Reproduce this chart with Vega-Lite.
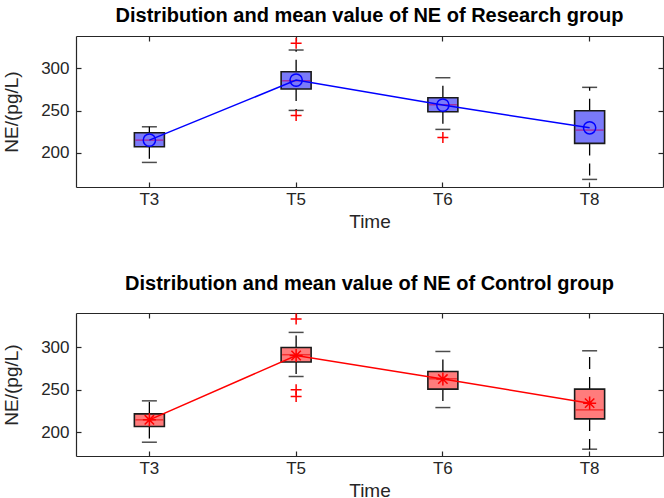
{
  "$schema": "https://vega.github.io/schema/vega-lite/v6.json",
  "background": "white",
  "padding": {"left": 2, "top": 5, "right": 0, "bottom": 0},
  "bounds": "flush",
  "spacing": 126,
  "config": {
    "font": "Liberation Sans",
    "view": {"stroke": null},
    "title": {"font": "Liberation Sans", "fontSize": 20, "fontWeight": "bold", "color": "black", "anchor": "middle", "frame": "group", "offset": 9},
    "axis": {
      "labelFont": "Liberation Sans", "titleFont": "Liberation Sans",
      "labelFontSize": 17, "titleFontSize": 19, "titleFontWeight": "normal",
      "labelColor": "#262626", "titleColor": "#262626",
      "domainColor": "#262626", "tickColor": "#262626", "domainWidth": 1.2, "tickWidth": 1.2,
      "tickSize": -5, "grid": false
    }
  },
  "datasets": {
    "research": [
      {"time": "T3", "lo": 188.6, "q1": 207.1, "median": 215.0, "q3": 223.7, "hi": 230.8, "mean": 215.0},
      {"time": "T5", "lo": 250.2, "q1": 275.5, "median": 285.3, "q3": 296.0, "hi": 321.7, "mean": 286.1},
      {"time": "T6", "lo": 227.7, "q1": 248.6, "median": 256.9, "q3": 265.2, "hi": 288.9, "mean": 256.5},
      {"time": "T8", "lo": 168.5, "q1": 211.1, "median": 226.9, "q3": 249.8, "hi": 277.5, "mean": 229.6}
    ],
    "research_outliers": [
      {"time": "T5", "value": 329.6},
      {"time": "T5", "value": 244.1},
      {"time": "T6", "value": 218.2}
    ],
    "control": [
      {"time": "T3", "lo": 188.2, "q1": 206.6, "median": 214.5, "q3": 221.5, "hi": 236.8, "mean": 214.5},
      {"time": "T5", "lo": 265.4, "q1": 282.4, "median": 291.0, "q3": 299.5, "hi": 317.2, "mean": 290.1},
      {"time": "T6", "lo": 228.9, "q1": 250.6, "median": 262.7, "q3": 271.3, "hi": 294.8, "mean": 262.4},
      {"time": "T8", "lo": 180.0, "q1": 215.6, "median": 226.2, "q3": 250.6, "hi": 295.6, "mean": 234.1}
    ],
    "control_outliers": [
      {"time": "T5", "value": 332.9},
      {"time": "T5", "value": 249.8},
      {"time": "T5", "value": 241.9}
    ]
  },
  "vconcat": [
    {
      "width": 587,
      "height": 151,
      "title": "Distribution and mean value of NE of Research group",
      "data": {"name": "research"},
      "layer": [
        {
          "mark": {"type": "rule", "color": "black", "strokeWidth": 1.3, "strokeDash": [12, 8]},
          "encoding": {
            "x": {"field": "time", "type": "nominal", "title": "Time",
                  "scale": {"type": "band", "domain": ["T3", "T5", "T6", "T8"], "paddingInner": 0, "paddingOuter": 0},
                  "axis": {"orient": "bottom", "labelAngle": 0, "labelPadding": 9, "titlePadding": 5}},
            "y": {"field": "q3", "type": "quantitative", "title": "NE/(pg/L)",
                  "scale": {"domain": [159.5, 338.3], "nice": false, "zero": false},
                  "axis": {"orient": "left", "values": [200, 250, 300], "labelPadding": 12, "titlePadding": 19}},
            "y2": {"field": "hi"}
          }
        },
        {
          "mark": {"type": "rule", "color": "black", "strokeWidth": 1.3, "strokeDash": [12, 8]},
          "encoding": {
            "x": {"field": "time", "type": "nominal", "axis": null},
            "y": {"field": "q1", "type": "quantitative", "axis": null},
            "y2": {"field": "lo"}
          }
        },
        {
          "mark": {"type": "tick", "color": "black", "size": 15, "thickness": 1.5},
          "encoding": {
            "x": {"field": "time", "type": "nominal", "axis": null},
            "y": {"field": "hi", "type": "quantitative", "axis": null}
          }
        },
        {
          "mark": {"type": "tick", "color": "black", "size": 15, "thickness": 1.5},
          "encoding": {
            "x": {"field": "time", "type": "nominal", "axis": null},
            "y": {"field": "lo", "type": "quantitative", "axis": null}
          }
        },
        {
          "mark": {"type": "bar", "size": 30, "fill": "#7a7afa", "stroke": "#1a1a1a", "strokeWidth": 1.6},
          "encoding": {
            "x": {"field": "time", "type": "nominal", "axis": null},
            "y": {"field": "q1", "type": "quantitative", "axis": null},
            "y2": {"field": "q3"}
          }
        },
        {
          "mark": {"type": "tick", "color": "#b01080", "size": 28, "thickness": 1.5},
          "encoding": {
            "x": {"field": "time", "type": "nominal", "axis": null},
            "y": {"field": "median", "type": "quantitative", "axis": null}
          }
        },
        {
          "mark": {"type": "line", "color": "#0000ff", "strokeWidth": 1.5},
          "encoding": {
            "x": {"field": "time", "type": "nominal",
                  "axis": {"orient": "top", "labels": false, "title": null}},
            "y": {"field": "mean", "type": "quantitative",
                  "axis": {"orient": "right", "values": [200, 250, 300], "labels": false, "title": null}}
          }
        },
        {
          "mark": {"type": "point", "shape": "circle", "filled": false, "color": "#0000ff", "size": 150, "strokeWidth": 1.5, "opacity": 1},
          "encoding": {
            "x": {"field": "time", "type": "nominal", "axis": null},
            "y": {"field": "mean", "type": "quantitative", "axis": null}
          }
        },
        {
          "data": {"name": "research_outliers"},
          "mark": {"type": "point", "shape": "M-1,0H1M0,-1V1", "filled": false, "color": "#ff0000", "size": 120, "strokeWidth": 1.5, "opacity": 1},
          "encoding": {
            "x": {"field": "time", "type": "nominal", "axis": null},
            "y": {"field": "value", "type": "quantitative", "axis": null}
          }
        }
      ],
      "resolve": {"axis": {"x": "independent", "y": "independent"}}
    },
    {
      "width": 587,
      "height": 143,
      "title": {"text": "Distribution and mean value of NE of Control group", "offset": 17},
      "data": {"name": "control"},
      "layer": [
        {
          "mark": {"type": "rule", "color": "black", "strokeWidth": 1.3, "strokeDash": [12, 8]},
          "encoding": {
            "x": {"field": "time", "type": "nominal", "title": "Time",
                  "scale": {"type": "band", "domain": ["T3", "T5", "T6", "T8"], "paddingInner": 0, "paddingOuter": 0},
                  "axis": {"orient": "bottom", "labelAngle": 0, "labelPadding": 9, "titlePadding": 5}},
            "y": {"field": "q3", "type": "quantitative", "title": "NE/(pg/L)",
                  "scale": {"domain": [172, 340], "nice": false, "zero": false},
                  "axis": {"orient": "left", "values": [200, 250, 300], "labelPadding": 12, "titlePadding": 19}},
            "y2": {"field": "hi"}
          }
        },
        {
          "mark": {"type": "rule", "color": "black", "strokeWidth": 1.3, "strokeDash": [12, 8]},
          "encoding": {
            "x": {"field": "time", "type": "nominal", "axis": null},
            "y": {"field": "q1", "type": "quantitative", "axis": null},
            "y2": {"field": "lo"}
          }
        },
        {
          "mark": {"type": "tick", "color": "black", "size": 15, "thickness": 1.5},
          "encoding": {
            "x": {"field": "time", "type": "nominal", "axis": null},
            "y": {"field": "hi", "type": "quantitative", "axis": null}
          }
        },
        {
          "mark": {"type": "tick", "color": "black", "size": 15, "thickness": 1.5},
          "encoding": {
            "x": {"field": "time", "type": "nominal", "axis": null},
            "y": {"field": "lo", "type": "quantitative", "axis": null}
          }
        },
        {
          "mark": {"type": "bar", "size": 30, "fill": "#ff7c7c", "stroke": "#1a1a1a", "strokeWidth": 1.6},
          "encoding": {
            "x": {"field": "time", "type": "nominal", "axis": null},
            "y": {"field": "q1", "type": "quantitative", "axis": null},
            "y2": {"field": "q3"}
          }
        },
        {
          "mark": {"type": "tick", "color": "#ee1111", "size": 28, "thickness": 1.5},
          "encoding": {
            "x": {"field": "time", "type": "nominal", "axis": null},
            "y": {"field": "median", "type": "quantitative", "axis": null}
          }
        },
        {
          "mark": {"type": "line", "color": "#ff0000", "strokeWidth": 1.5},
          "encoding": {
            "x": {"field": "time", "type": "nominal",
                  "axis": {"orient": "top", "labels": false, "title": null}},
            "y": {"field": "mean", "type": "quantitative",
                  "axis": {"orient": "right", "values": [200, 250, 300], "labels": false, "title": null}}
          }
        },
        {
          "mark": {"type": "point", "shape": "M-1,0H1M0,-1V1M-0.72,-0.72L0.72,0.72M-0.72,0.72L0.72,-0.72", "filled": false, "color": "#ff0000", "size": 170, "strokeWidth": 1.5, "opacity": 1},
          "encoding": {
            "x": {"field": "time", "type": "nominal", "axis": null},
            "y": {"field": "mean", "type": "quantitative", "axis": null}
          }
        },
        {
          "data": {"name": "control_outliers"},
          "mark": {"type": "point", "shape": "M-1,0H1M0,-1V1", "filled": false, "color": "#ff0000", "size": 120, "strokeWidth": 1.5, "opacity": 1},
          "encoding": {
            "x": {"field": "time", "type": "nominal", "axis": null},
            "y": {"field": "value", "type": "quantitative", "axis": null}
          }
        }
      ],
      "resolve": {"axis": {"x": "independent", "y": "independent"}}
    }
  ]
}
